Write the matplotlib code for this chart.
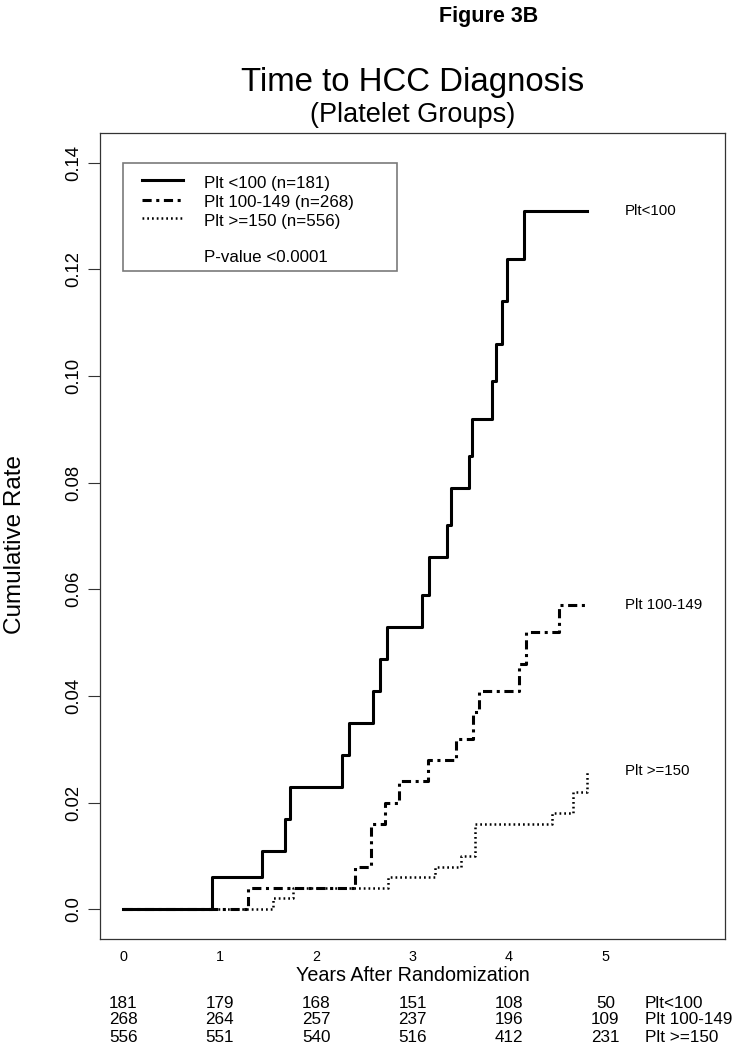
import matplotlib
matplotlib.use("Agg")
import matplotlib.pyplot as plt
from matplotlib.patches import Rectangle
from matplotlib.transforms import blended_transform_factory

plt.rcParams['font.family'] = ['Liberation Sans', 'DejaVu Sans']

# ---- data ----
years = [0, 1, 2, 3, 4, 5]
group_names = ["Plt<100", "Plt 100-149", "Plt >=150"]
legend_labels = ["Plt <100 (n=181)", "Plt 100-149 (n=268)", "Plt >=150 (n=556)"]

t_lt100 = [0, 0.92, 1.44, 1.68, 1.73, 2.27, 2.34, 2.59, 2.66, 2.74, 3.10, 3.17,
           3.36, 3.40, 3.59, 3.62, 3.82, 3.87, 3.93, 3.98, 4.16, 4.81]
y_lt100 = [0, 0.006, 0.011, 0.017, 0.023, 0.029, 0.035, 0.041, 0.047, 0.053, 0.059, 0.066,
           0.072, 0.079, 0.085, 0.092, 0.099, 0.106, 0.114, 0.122, 0.131, 0.131]

t_100_149 = [0, 1.29, 2.40, 2.57, 2.71, 2.86, 3.16, 3.45, 3.63, 3.69, 4.10, 4.18, 4.52, 4.79]
y_100_149 = [0, 0.004, 0.008, 0.016, 0.020, 0.024, 0.028, 0.032, 0.037, 0.041, 0.046, 0.052, 0.057, 0.057]

t_ge150 = [0, 1.55, 1.76, 2.75, 3.23, 3.50, 3.65, 4.45, 4.66, 4.81]
y_ge150 = [0, 0.002, 0.004, 0.006, 0.008, 0.010, 0.016, 0.018, 0.022, 0.026]

risk_lt100 = [181, 179, 168, 151, 108, 50]
risk_100_149 = [268, 264, 257, 237, 196, 109]
risk_ge150 = [556, 551, 540, 516, 412, 231]

yticks = [0.0, 0.02, 0.04, 0.06, 0.08, 0.10, 0.12, 0.14]
ytick_labels = ["0.0", "0.02", "0.04", "0.06", "0.08", "0.10", "0.12", "0.14"]
pvalue_text = "P-value <0.0001"

# ---- figure ----
W, H = 735, 1050
fig = plt.figure(figsize=(W / 100, H / 100), dpi=100)
ax = fig.add_axes([100 / W, 1 - 939 / H, 625 / W, 806 / H])

styles = [
    dict(color="black", lw=2.2, linestyle="-"),
    dict(color="black", lw=2.2, linestyle=(0, (3, 1.5, 1, 1.5))),
    dict(color="black", lw=1.8, linestyle=(0, (0.7, 1.2))),
]
series = [(t_lt100, y_lt100), (t_100_149, y_100_149), (t_ge150, y_ge150)]
for (t, y), st in zip(series, styles):
    ax.step(t, y, where="post", **st)

ax.set_xlim(-0.24, 6.24)
ax.set_ylim(-0.0056, 0.1456)

ax.set_yticks(yticks)
ax.set_yticklabels(ytick_labels, rotation=90, va="center")
ax.tick_params(axis="y", length=8.6, width=0.8, pad=4, labelsize=13.3, color="#333333")
ax.set_xticks(years)
ax.set_xticklabels([str(v) for v in years])
ax.tick_params(axis="x", length=0, pad=8, labelsize=10.4)
for s in ax.spines.values():
    s.set_color("#333333")
    s.set_linewidth(0.9)

ax.set_ylabel("Cumulative Rate", fontsize=17.5)
ax.yaxis.label.set_va("center")
ax.yaxis.set_label_coords(-0.136, 0.489)
ax.set_xlabel("Years After Randomization", fontsize=14.2)
ax.xaxis.label.set_va("center")
ax.xaxis.set_label_coords(0.5, -0.0447)

# end-of-curve labels
for (t, y), name in zip(series, group_names):
    ax.text(5.2, y[-1], name, ha="left", va="center", fontsize=10.8)

# legend box (manual)
ax.add_patch(Rectangle((0, 0.1197), 2.84, 0.14 - 0.1197, fill=False,
                       edgecolor="#7a7a7a", lw=1.2, zorder=3))
leg_rows = [0.1362, 0.1325, 0.1290]
for yy, st, lab in zip(leg_rows, styles, legend_labels):
    ax.plot([0.2, 0.62], [yy + 0.0006, yy + 0.0006], **st)
    ax.text(0.84, yy, lab, ha="left", va="center", fontsize=12.2)
ax.text(0.84, 0.1223, pvalue_text, ha="left", va="center", fontsize=12.2)

# risk table
tr = blended_transform_factory(ax.transData, fig.transFigure)
row_y = [1003, 1020, 1037]
for ry, vals, name in zip(row_y, [risk_lt100, risk_100_149, risk_ge150], group_names):
    for xv, v in zip(years, vals):
        ax.text(xv, 1 - ry / H, str(v), transform=tr, ha="center", va="center",
                fontsize=12.3, clip_on=False)
    ax.text(5.41, 1 - ry / H, name, transform=tr, ha="left", va="center",
            fontsize=12.3, clip_on=False)

# titles
cx = 412.5 / W
fig.text(cx, 1 - 91 / H, "Time to HCC Diagnosis", ha="center", va="baseline", fontsize=23.8)
fig.text(cx, 1 - 122 / H, "(Platelet Groups)", ha="center", va="baseline", fontsize=19.5)
fig.text(489 / W, 1 - 22 / H, "Figure 3B", ha="center", va="baseline", fontsize=15.5,
         fontweight="bold")

fig.savefig("out.png", dpi=100)
